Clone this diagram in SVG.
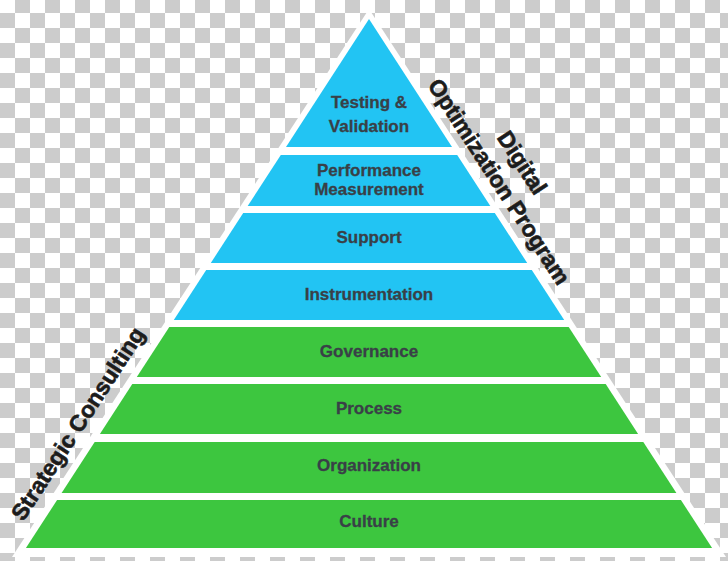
<svg xmlns="http://www.w3.org/2000/svg" width="728" height="561" viewBox="0 0 728 561">
  <defs>
    <pattern id="checker" x="0" y="-2" width="30" height="30" patternUnits="userSpaceOnUse">
      <rect x="0" y="0" width="30" height="30" fill="#ffffff"/>
      <rect x="15" y="0" width="15" height="15" fill="#cccccc"/>
      <rect x="0" y="15" width="15" height="15" fill="#cccccc"/>
    </pattern>
    <style>
      .blue { fill: #22c4f3; }
      .green { fill: #3dc63f; }
      .lbl { font-family: "Liberation Sans", Arial, sans-serif; font-weight: bold; font-size: 17px; fill: #394047; stroke: #394047; stroke-width: 0.3px; text-anchor: middle; }
      .side { font-family: "Liberation Sans", Arial, sans-serif; font-weight: bold; font-size: 23px; fill: #1c1c1c; stroke: #1c1c1c; stroke-width: 0.6px; text-anchor: middle; }
    </style>
  </defs>
  <rect x="0" y="0" width="728" height="561" fill="url(#checker)"/>
  <polygon points="369,9 12,557 726,557" fill="#ffffff"/>

  <g id="testing-validation">
    <polygon class="blue" points="369,19 286,147 452,147"/>
    <text class="lbl" x="369" y="108">Testing &amp;</text>
    <text class="lbl" x="369" y="132">Validation</text>
  </g>
  <g id="performance-measurement">
    <polygon class="blue" points="280.8,155 457.2,155 490.3,206 247.7,206"/>
    <text class="lbl" x="369" y="176">Performance</text>
    <text class="lbl" x="369" y="195">Measurement</text>
  </g>
  <g id="support">
    <polygon class="blue" points="243.2,213 494.8,213 527.2,263 210.8,263"/>
    <text class="lbl" x="369" y="243">Support</text>
  </g>
  <g id="instrumentation">
    <polygon class="blue" points="206.2,270 531.8,270 564.2,320 173.8,320"/>
    <text class="lbl" x="369" y="300">Instrumentation</text>
  </g>
  <g id="governance">
    <polygon class="green" points="169.3,327 568.7,327 601.2,377 136.8,377"/>
    <text class="lbl" x="369" y="357">Governance</text>
  </g>
  <g id="process">
    <polygon class="green" points="132.3,384 605.7,384 638.1,434 99.9,434"/>
    <text class="lbl" x="369" y="414">Process</text>
  </g>
  <g id="organization">
    <polygon class="green" points="94.7,442 643.3,442 676.4,493 61.6,493"/>
    <text class="lbl" x="369" y="471">Organization</text>
  </g>
  <g id="culture">
    <polygon class="green" points="57.1,500 680.9,500 712.1,548 25.9,548"/>
    <text class="lbl" x="369" y="527">Culture</text>
  </g>

  <g id="digital-optimization-program">
    <text class="side" transform="translate(515.5,167) rotate(57)">Digital</text>
    <text class="side" transform="translate(492.5,186) rotate(57)">Optimization Program</text>
  </g>
  <g id="strategic-consulting">
    <text class="side" transform="translate(84.5,428) rotate(-57)">Strategic Consulting</text>
  </g>
  <g id="connectors"></g>
</svg>
